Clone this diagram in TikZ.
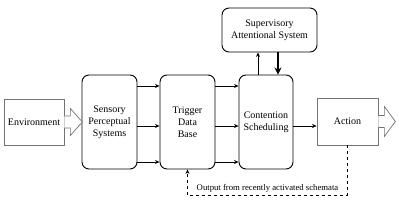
\documentclass[tikz,border=0pt]{standalone}
\usepackage{fontspec}
\setmainfont{Liberation Serif}
\usepackage{tikz}
\usetikzlibrary{calc}
\usetikzlibrary{arrows.meta}

\begin{document}
\begin{tikzpicture}[x=1pt, y=-1pt, font=\fontsize{10}{12}\selectfont,
    stage/.style={draw, line width=0.9pt, rounded corners=7pt, align=center, inner sep=1pt},
    outer/.style={draw=black!55, line width=0.7pt, fill=white, inner sep=1pt},
    link/.style={-{Stealth[length=4.5pt,width=4pt]}, line width=0.8pt}]
    \useasboundingbox (0,0) rectangle (399,208);
    % boxes
    \node[outer, minimum width=60pt, minimum height=46pt] (env) at (34,122) {Environment};
    \node[stage, minimum width=55pt, minimum height=94pt] (sps) at (109.5,122) {Sensory\\Perceptual\\Systems};
    \node[stage, minimum width=55pt, minimum height=94pt] (tdb) at (187.5,122) {Trigger\\Data\\Base};
    \node[stage, minimum width=54pt, minimum height=94pt] (cs) at (266,122) {Contention\\Scheduling};
    \node[stage, minimum width=95pt, minimum height=44pt] (sas) at (269.5,30) {Supervisory\\Attentional System};
    \node[outer, minimum width=61pt, minimum height=47pt, inner xsep=8pt] (act) at (347.5,121.5) {Action};
    % block arrows
    \foreach \n/\h/\t in {env/13.5/18, act/15/17} {
        \draw[draw=black!55, line width=0.7pt, fill=white] (\n.east) ++(0,-6) -- ++(6,0) -- ++(0,6-\h)
            -- ++(\t-6,\h) -- ++(6-\t,\h) -- ++(0,6-\h) -- ++(-6,0);
    }
    % arrows between stages
    \foreach \y in {86,126,162} {
        \draw[link] (sps.east |- 0,\y) -- (tdb.west |- 0,\y);
        \draw[link] (tdb.east |- 0,\y) -- (cs.west |- 0,\y);
    }
    \draw[link] (cs.east |- 0,126) -- (act.west |- 0,126);
    \draw[link] (cs.north -| 258,0) -- (sas.south -| 258,0);
    \draw[-{Stealth[length=7pt,width=7pt]}, line width=2pt] (sas.south -| 278,0) -- (cs.north -| 278,0);
    % feedback
    \coordinate (fb) at (0,195);
    \draw[link, dashed, line width=0.7pt] (act.south) -- (act.south |- fb) -- (tdb.south |- fb)
        node[midway, above=-1pt, font=\fontsize{8.7}{10}\selectfont] (out) {Output from recently activated schemata}
        -- (tdb.south);
\end{tikzpicture}
\end{document}
